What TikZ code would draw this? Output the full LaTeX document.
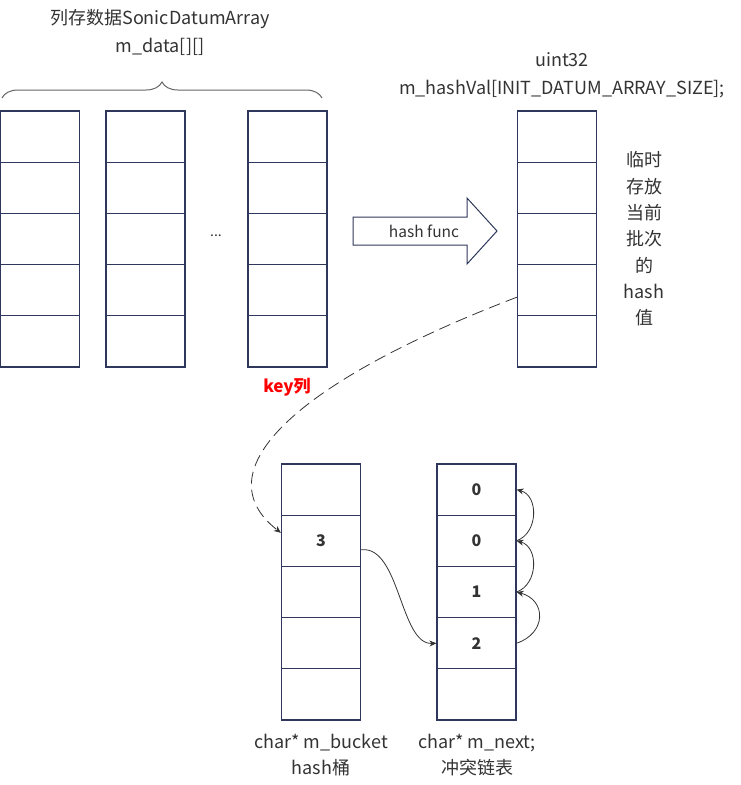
\documentclass[tikz,border=0pt]{standalone}
\usepackage{fontspec}
\setmainfont{Noto Sans CJK SC}
\usetikzlibrary{arrows.meta,decorations.pathreplacing}
\definecolor{boxline}{RGB}{47,56,92}
\definecolor{txt}{RGB}{51,51,51}
\definecolor{keyred}{RGB}{255,0,0}
\tikzset{
  cell/.style={draw=boxline, line width=1.2pt, minimum width=79pt, minimum height=51.2pt,
    inner sep=0pt, text=txt, font=\fontsize{16}{18}\selectfont\bfseries},
  lbl/.style={text=txt, inner sep=0pt, align=center, font=\fontsize{18}{28}\selectfont},
  link/.style={txt, line width=0.8pt, -{Stealth[length=7pt,width=6pt]}},
}
\begin{document}
\begin{tikzpicture}[x=1pt,y=-1pt]
  \useasboundingbox (0,0) rectangle (741,785);
  \foreach \c/\x in {a/40,b/145.5,c/287.5,h/557}
    \foreach \r in {1,...,5}
      \node[cell] (\c\r) at (\x,{85.4+51.2*\r}) {};
  \foreach \r/\v in {1/{},2/3,3/{},4/{},5/{}}
    \node[cell] (k\r) at (321,{438.4+51.2*\r}) {\v};
  \foreach \r/\v in {1/0,2/0,3/1,4/2,5/{}}
    \node[cell] (n\r) at (476.5,{438.4+51.2*\r}) {\v};

  \node[lbl] (title) at (160,32) {列存数据SonicDatumArray\\m\_data[][]};
  \draw[decorate, decoration={brace, amplitude=16pt}, gray!80!black, line width=1pt] (2,98) -- (322,98);
  \node[lbl, font=\fontsize{14}{16}\selectfont] (dots) at (216,236) {...};
  \node[lbl, text=keyred, font=\fontsize{17}{18}\selectfont\bfseries] (key) at (287,387) {key列};

  \draw[boxline, line width=1pt] (353,217) -- (467,217) -- (467,198) -- (497,231)
    -- (467,264) -- (467,245) -- (353,245) -- cycle;
  \node[lbl, font=\fontsize{15.5}{16}\selectfont] (hf) at (424,231) {hash func};

  \node[lbl] (hval) at (562,75) {uint32\\m\_hashVal[INIT\_DATUM\_ARRAY\_SIZE];};
  \node[lbl, font=\fontsize{18}{26.3}\selectfont] (note) at (644,239) {临时\\存放\\当前\\批次\\的\\hash\\值};

  \node[lbl, font=\fontsize{18}{26}\selectfont] (bname) at (321,755) {char* m\_bucket\\hash桶};
  \node[lbl, font=\fontsize{18}{26}\selectfont] (nname) at (477,755) {char* m\_next;\\冲突链表};

  \draw[link, dash pattern=on 12pt off 6pt] ([yshift=-7pt]h4.west) .. controls (300,380) and (200,470) .. ([yshift=8pt]k2.west);
  \draw[link] ([yshift=-9pt]k2.east) .. controls (400,545) and (400,645) .. (n4.west);
  \draw[link] (n4.east) .. controls +(30,-10) and +(30,8) .. (n3.east);
  \draw[link] (n3.east) .. controls +(22,-8) and +(22,6) .. (n2.east);
  \draw[link] (n2.east) .. controls +(22,-8) and +(22,6) .. (n1.east);
\end{tikzpicture}
\end{document}
